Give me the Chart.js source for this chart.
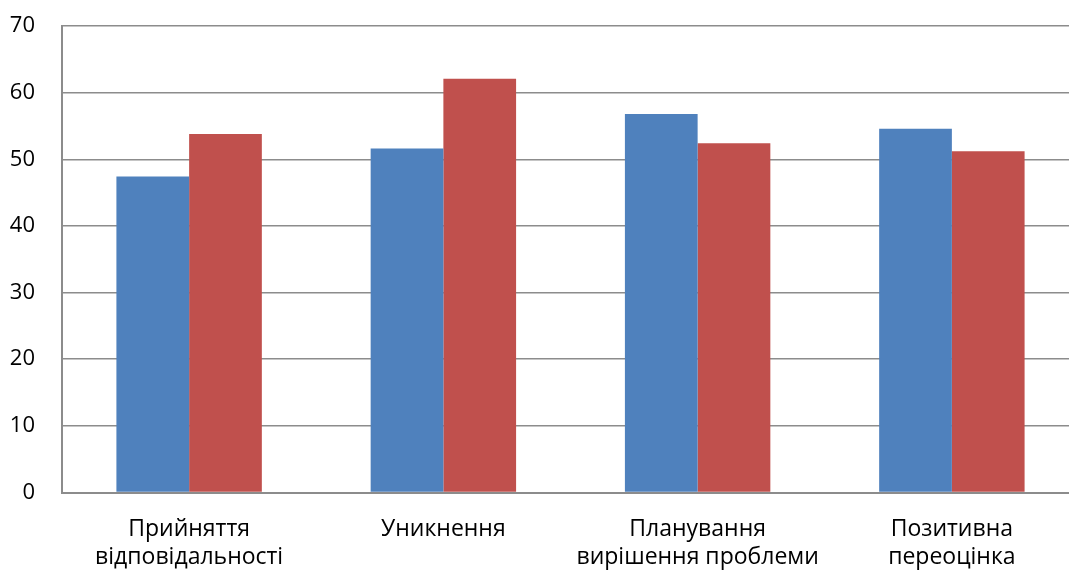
<!DOCTYPE html>
<html lang="uk">
<head>
<meta charset="utf-8">
<title>Стратегії подолання</title>
<script src="https://cdn.jsdelivr.net/npm/chart.js@4/dist/chart.umd.min.js"></script>
<style>
  html, body { margin: 0; padding: 0; background: #ffffff; overflow: hidden; }
  #wrap { width: 1080px; height: 570px; }
</style>
</head>
<body>
<div id="wrap"><canvas id="chart" width="1080" height="570"></canvas></div>
<script>
// Coping strategy categories (x axis)
const categories = [
  ['Прийняття', 'відповідальності'],
  'Уникнення',
  ['Планування', 'вирішення проблеми'],
  ['Позитивна', 'переоцінка']
];

// Two groups of scores per strategy
const seriesA = [47.4, 51.6, 56.8, 54.6];
const seriesB = [53.8, 62.1, 52.4, 51.2];

// Value axis
const yMin = 0;
const yMax = 70;
const yStep = 10;

const gridColor = '#8c8c8c';
const fontFamily = '"Open Sans", "DejaVu Sans", sans-serif';

new Chart(document.getElementById('chart'), {
  type: 'bar',
  data: {
    labels: categories,
    datasets: [
      { label: 'Група 1', data: seriesA, backgroundColor: '#4F81BD', borderWidth: 0 },
      { label: 'Група 2', data: seriesB, backgroundColor: '#C0504D', borderWidth: 0 }
    ]
  },
  options: {
    responsive: false,
    devicePixelRatio: 1,
    animation: false,
    layout: { padding: { top: 26, right: 1, bottom: 0, left: 0 } },
    plugins: {
      legend: { display: false },
      tooltip: { enabled: false }
    },
    datasets: {
      bar: { categoryPercentage: 0.572, barPercentage: 1.0 }
    },
    scales: {
      x: {
        grid: { display: false, drawTicks: false },
        border: { display: true, color: gridColor, width: 2 },
        ticks: {
          color: '#000000',
          padding: 23,
          maxRotation: 0,
          autoSkip: false,
          font: { family: fontFamily, size: 23, lineHeight: 1.23 }
        },
        afterFit(scale) { scale.height = 77.5; }
      },
      y: {
        min: yMin,
        max: yMax,
        grid: { color: gridColor, lineWidth: 1.5, drawTicks: false },
        border: { display: true, color: gridColor, width: 2 },
        ticks: {
          stepSize: yStep,
          color: '#000000',
          padding: 27,
          font: { family: fontFamily, size: 22 }
        },
        afterFit(scale) {
          scale.width = 62;
          // keep the plot top fixed by the layout padding alone
          scale.paddingTop = 0;
          scale.paddingBottom = 0;
        }
      }
    }
  }
});
</script>
</body>
</html>
